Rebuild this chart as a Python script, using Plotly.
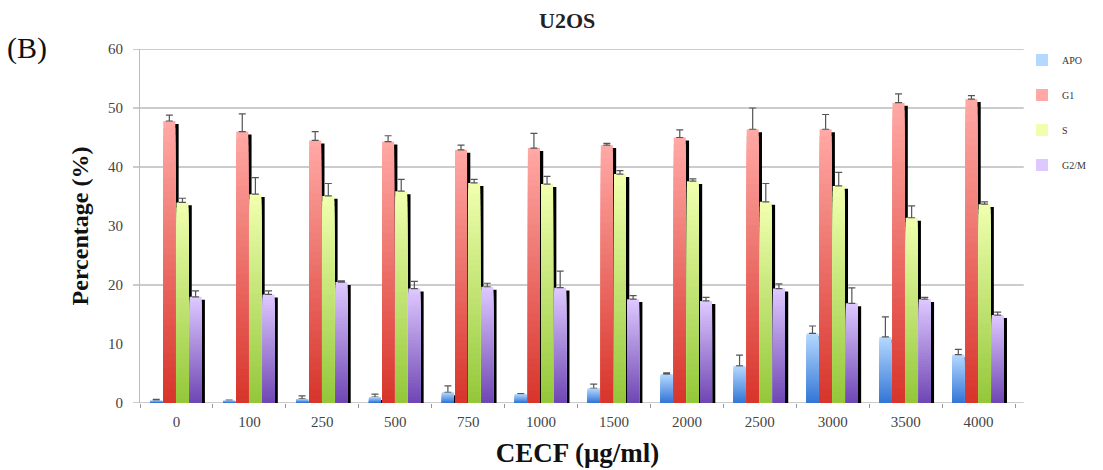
import plotly.graph_objects as go

# CECF concentrations (µg/ml)
categories = ["0", "100", "250", "500", "750", "1000", "1500", "2000", "2500", "3000", "3500", "4000"]

# Cell-cycle phase percentages and their SD (upper error bars only)
apo = [0.4, 0.4, 0.7, 1.0, 1.8, 1.5, 2.5, 4.9, 6.3, 11.8, 11.2, 8.2]
apo_err = [0.2, 0.1, 0.5, 0.5, 1.1, 0.1, 0.7, 0.2, 1.8, 1.25, 3.4, 0.9]
g1 = [47.8, 46.0, 44.5, 44.3, 42.9, 43.2, 43.7, 45.0, 46.4, 46.4, 50.9, 51.5]
g1_err = [1.0, 3.0, 1.5, 1.0, 0.8, 2.5, 0.3, 1.3, 3.6, 2.5, 1.5, 0.6]
s_phase = [34.0, 35.4, 35.1, 35.9, 37.3, 37.1, 38.8, 37.6, 34.1, 36.8, 31.4, 33.7]
s_err = [0.7, 2.8, 2.1, 2.0, 0.6, 1.3, 0.6, 0.4, 3.1, 2.3, 2.0, 0.4]
g2m = [18.0, 18.4, 20.5, 19.4, 19.7, 19.55, 17.6, 17.3, 19.4, 16.9, 17.6, 14.9]
g2m_err = [1.0, 0.6, 0.2, 1.2, 0.6, 2.8, 0.6, 0.6, 0.8, 2.6, 0.3, 0.5]

series = [
    ("APO", apo, apo_err, "#b4d8ff", "#3477d6"),
    ("G1", g1, g1_err, "#ffa8a4", "#d8352c"),
    ("S", s_phase, s_err, "#f0ffae", "#94c83a"),
    ("G2/M", g2m, g2m_err, "#ddc8ff", "#7048b4"),
]

FONT = "Liberation Serif"
BAR_W = 0.165
STEP = 0.18
START = -0.36
N_LAYERS = 40


def hex_to_rgb(h):
    h = h.lstrip("#")
    return tuple(int(h[i:i + 2], 16) for i in (0, 2, 4))


def mix(c1, c2, t):
    a, b = hex_to_rgb(c1), hex_to_rgb(c2)
    return "rgb({},{},{})".format(*[round(a[i] + (b[i] - a[i]) * t) for i in range(3)])


fig = go.Figure()

# drop shadows behind every bar
for i, (name, vals, err, top, bot) in enumerate(series):
    fig.add_trace(go.Bar(
        x=categories, y=[max(v - 0.5, 0) for v in vals],
        offset=START + i * STEP + 0.045, width=BAR_W,
        marker=dict(color="#000000", line=dict(width=0)),
        showlegend=False, hoverinfo="skip",
    ))

# gradient-filled bars: light at the top, darker towards the base
for i, (name, vals, err, top, bot) in enumerate(series):
    for k in range(N_LAYERS):
        frac = 1 - k / N_LAYERS
        t = k / (N_LAYERS - 1)
        first = k == 0
        fig.add_trace(go.Bar(
            x=categories, y=[v * frac for v in vals],
            offset=START + i * STEP, width=BAR_W,
            name=name, legendgroup=name, showlegend=first,
            marker=dict(color=mix(top, bot, t), line=dict(width=0)),
            error_y=dict(type="data", symmetric=False, array=err,
                         arrayminus=[0] * len(err), color="#555555",
                         thickness=1.2, width=3.5, visible=first),
            hoverinfo="skip" if not first else None,
        ))

# horizontal gridlines that are shown on the chart
shapes = []
for gy in [0, 20, 40, 50, 60]:
    shapes.append(dict(type="line", xref="paper", yref="y", x0=-0.008, x1=1.01,
                       y0=gy, y1=gy, line=dict(color="#9a9a9a", width=1.2), layer="below"))

fig.update_layout(
    width=1103, height=470,
    margin=dict(l=140, r=67, t=49, b=67),
    barmode="overlay",
    plot_bgcolor="white", paper_bgcolor="white",
    font=dict(family=FONT, color="#333333"),
    shapes=shapes,
    showlegend=True,
    legend=dict(x=1.008, y=1.01, xanchor="left", yanchor="top",
                font=dict(family=FONT, size=10, color="#333333"),
                tracegroupgap=16, itemwidth=30, bgcolor="rgba(0,0,0,0)"),
    xaxis=dict(
        type="category", categoryorder="array", categoryarray=categories,
        showgrid=False, showline=False, ticks="outside", tickson="boundaries",
        ticklen=4, tickcolor="#9a9a9a", tickwidth=1, automargin=False,
        tickfont=dict(family=FONT, size=15, color="#444444"),
        ticklabelstandoff=8,
        title=dict(text="<b>CECF (μg/ml)</b>", font=dict(family=FONT, size=27, color="#111111"),
                   standoff=14),
    ),
    yaxis=dict(
        range=[0, 60], dtick=10, showgrid=False, zeroline=False,
        showline=True, linecolor="#bbbbbb", linewidth=1, ticks="",
        tickfont=dict(family=FONT, size=15, color="#444444"),
        ticklabelstandoff=13,
        title=dict(text="<b>Percentage (%)</b>", font=dict(family=FONT, size=24, color="#111111"),
                   standoff=12),
    ),
    annotations=[
        dict(text="<b>U2OS</b>", xref="paper", yref="paper", x=0.488, y=1.0,
             yanchor="middle", yshift=29, showarrow=False,
             font=dict(family=FONT, size=22, color="#222222")),
        dict(text="(B)", xref="paper", yref="paper", x=-0.154, y=1.0, yshift=1,
             xanchor="left", yanchor="middle", showarrow=False,
             font=dict(family=FONT, size=30, color="#111111")),
    ],
)

fig.write_html("out.html")
